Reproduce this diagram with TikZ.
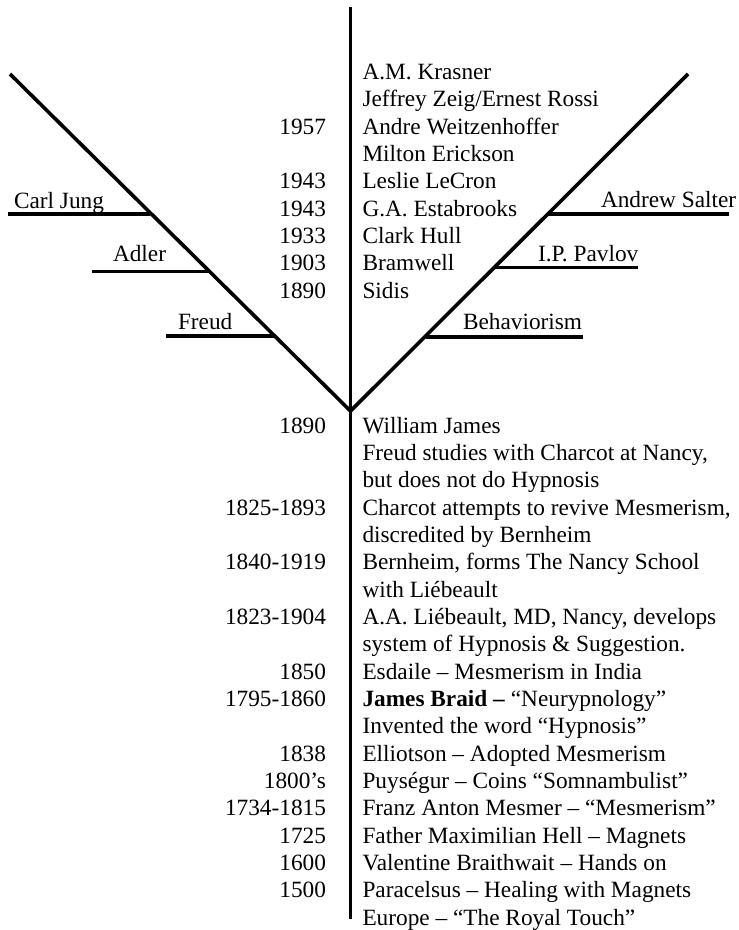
\documentclass[tikz,border=0pt]{standalone}
\usepackage{fontspec}
\setmainfont{Liberation Serif}
\begin{document}
\begin{tikzpicture}[x=1pt,y=-1pt,
  txt/.style={anchor=base west,inner sep=0pt,outer sep=0pt,font=\fontsize{23.3}{27}\selectfont},
  yr/.style={anchor=base east,inner sep=0pt,outer sep=0pt,font=\fontsize{23.3}{27}\selectfont},
  trunk/.style={line width=3.6pt},
  branch/.style={line width=3.4pt}]
\useasboundingbox (0,0) rectangle (739,930);
% main lines
\coordinate (top) at (350.5,7);
\coordinate (bot) at (350.5,919);
\coordinate (vtx) at (350.5,411);
\coordinate (lend) at (10,74);
\coordinate (rend) at (688,74);
\draw[trunk] (top) -- (bot);
\draw[trunk,line join=miter] (lend) -- (vtx) -- (rend);
% left branches
\coordinate (jungA) at (150,214); \coordinate (jungB) at (8,214);
\coordinate (adlerA) at (209,271.5); \coordinate (adlerB) at (92,271.5);
\coordinate (freudA) at (274,336); \coordinate (freudB) at (166,336);
\draw[branch] (jungA) -- (jungB);
\draw[branch] (adlerA) -- (adlerB);
\draw[branch] (freudA) -- (freudB);
\node[txt] (jung) at (14,208) {Carl Jung};
\node[txt] (adler) at (113,261) {Adler};
\node[txt] (freud) at (178,329) {Freud};
% right branches
\coordinate (saltA) at (547,214); \coordinate (saltB) at (729,214);
\coordinate (pavA) at (495,267.5); \coordinate (pavB) at (638,267.5);
\coordinate (behA) at (426,337); \coordinate (behB) at (583,337);
\draw[branch] (saltA) -- (saltB);
\draw[branch] (pavA) -- (pavB);
\draw[branch] (behA) -- (behB);
\node[txt] (salter) at (601,207) {Andrew Salter};
\node[txt] (pavlov) at (538,261) {I.P. Pavlov};
\node[txt] (behav) at (463,329) {Behaviorism};
% upper list
\node[txt] (t0) at (362.5,79.5) {A.M. Krasner};
\node[txt] (t1) at (362.5,106.8) {Jeffrey Zeig/Ernest Rossi};
\node[txt] (t2) at (362.5,134.2) {Andre Weitzenhoffer};
\node[txt] (t3) at (362.5,161.5) {Milton Erickson};
\node[txt] (t4) at (362.5,188.8) {Leslie LeCron};
\node[txt] (t5) at (362.5,216.2) {G.A. Estabrooks};
\node[txt] (t6) at (362.5,243.5) {Clark Hull};
\node[txt] (t7) at (362.5,270.8) {Bramwell};
\node[txt] (t8) at (362.5,298.1) {Sidis};
\node[yr] (y2) at (326,134.2) {1957};
\node[yr] (y4) at (326,188.8) {1943};
\node[yr] (y5) at (326,216.2) {1943};
\node[yr] (y6) at (326,243.5) {1933};
\node[yr] (y7) at (326,270.8) {1903};
\node[yr] (y8) at (326,298.1) {1890};
% lower list
\node[txt] (b0) at (362.5,433.0) {William James};
\node[txt] (b1) at (362.5,460.3) {Freud studies with Charcot at Nancy,};
\node[txt] (b2) at (362.5,487.7) {but does not do Hypnosis};
\node[txt] (b3) at (362.5,515.0) {Charcot attempts to revive Mesmerism,};
\node[txt] (b4) at (362.5,542.3) {discredited by Bernheim};
\node[txt] (b5) at (362.5,569.7) {Bernheim, forms The Nancy School};
\node[txt] (b6) at (362.5,597.0) {with Liébeault};
\node[txt] (b7) at (362.5,624.3) {A.A. Liébeault, MD, Nancy, develops};
\node[txt] (b8) at (362.5,651.7) {system of Hypnosis \& Suggestion.};
\node[txt] (b9) at (362.5,679.0) {Esdaile – Mesmerism in India};
\node[txt] (b10) at (362.5,706.3) {\textbf{James Braid –} “Neurypnology”};
\node[txt] (b11) at (362.5,733.7) {Invented the word “Hypnosis”};
\node[txt] (b12) at (362.5,761.0) {Elliotson – Adopted Mesmerism};
\node[txt] (b13) at (362.5,788.3) {Puységur – Coins “Somnambulist”};
\node[txt] (b14) at (362.5,815.7) {Franz Anton Mesmer – “Mesmerism”};
\node[txt] (b15) at (362.5,843.0) {Father Maximilian Hell – Magnets};
\node[txt] (b16) at (362.5,870.3) {Valentine Braithwait – Hands on};
\node[txt] (b17) at (362.5,897.7) {Paracelsus – Healing with Magnets};
\node[txt] (b18) at (362.5,925.0) {Europe – “The Royal Touch”};
\node[yr] (z0) at (326,433.0) {1890};
\node[yr] (z3) at (326,515.0) {1825-1893};
\node[yr] (z5) at (326,569.7) {1840-1919};
\node[yr] (z7) at (326,624.3) {1823-1904};
\node[yr] (z9) at (326,679.0) {1850};
\node[yr] (z10) at (326,706.3) {1795-1860};
\node[yr] (z12) at (326,761.0) {1838};
\node[yr] (z13) at (326,788.3) {1800’s};
\node[yr] (z14) at (326,815.7) {1734-1815};
\node[yr] (z15) at (326,843.0) {1725};
\node[yr] (z16) at (326,870.3) {1600};
\node[yr] (z17) at (326,897.7) {1500};
\end{tikzpicture}
\end{document}
